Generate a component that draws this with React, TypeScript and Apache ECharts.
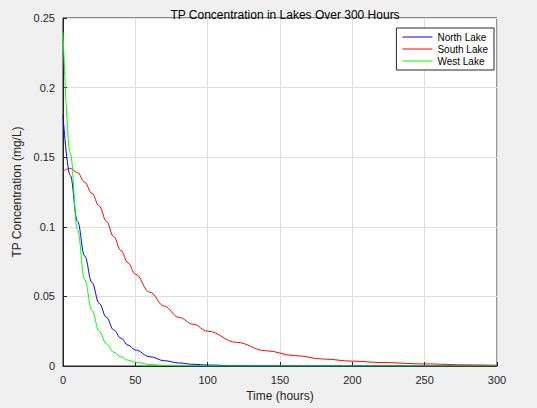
import React, { useEffect, useRef } from 'react';
import * as echarts from 'echarts';

const times = [0, 5, 10, 15, 20, 25, 30, 35, 40, 45, 50, 60, 70, 80, 90, 100, 120, 140, 160, 180, 200, 220, 250, 280, 300];
const north = [0.18, 0.137, 0.104, 0.079, 0.06, 0.045, 0.035, 0.026, 0.02, 0.015, 0.0115, 0.0067, 0.0038, 0.0022, 0.0012, 0.0007, 0.0002, 0.0001, 0.00004, 0.00002, 0, 0, 0, 0, 0];
const south = [0.14, 0.142, 0.139, 0.132, 0.124, 0.115, 0.104, 0.093, 0.083, 0.074, 0.066, 0.053, 0.043, 0.035, 0.03, 0.025, 0.017, 0.011, 0.0075, 0.005, 0.0035, 0.0025, 0.0015, 0.0008, 0.0005];
const west = [0.24, 0.153, 0.098, 0.062, 0.04, 0.025, 0.016, 0.01, 0.0066, 0.0042, 0.0027, 0.0011, 0.0004, 0.0002, 0.0001, 0.00003, 0, 0, 0, 0, 0, 0, 0, 0, 0];

const names = ['North Lake', 'South Lake', 'West Lake'];
const colors = ['#0000ff', '#ff0000', '#00ff00'];

export default function App() {
  const ref = useRef<HTMLDivElement>(null);
  useEffect(() => {
    if (!ref.current) return;
    const chart = echarts.init(ref.current, null, { renderer: 'svg' });
    const font = 'Helvetica, Arial, "Liberation Sans", sans-serif';
    const axisCommon = {
      axisLine: { show: true, onZero: false, lineStyle: { color: '#262626' } },
      axisTick: { show: true, inside: true, length: 4, lineStyle: { color: '#262626' } },
      axisLabel: { color: '#262626', fontSize: 11, fontFamily: font },
      splitLine: { show: true, lineStyle: { color: '#dfdfdf' } },
      nameLocation: 'middle' as const,
      nameTextStyle: { color: '#262626', fontSize: 12, fontFamily: font },
    };
    chart.setOption({
      animation: false,
      backgroundColor: '#f0f0f0',
      title: {
        text: 'TP Concentration in Lakes Over 300 Hours',
        left: 280, top: 4, textAlign: 'center',
        textStyle: { fontSize: 12, fontWeight: 'normal', color: '#000', fontFamily: font },
      },
      grid: { left: 63, right: 40, top: 18, bottom: 42, show: true, backgroundColor: '#fff', borderColor: '#262626', borderWidth: 1 },
      legend: {
        right: 43, top: 28, orient: 'vertical', itemGap: 2, itemWidth: 30, itemHeight: 1,
        backgroundColor: '#fff', borderColor: '#262626', borderWidth: 1, padding: [4, 6, 4, 6],
        icon: 'rect',
        textStyle: { fontSize: 10, color: '#000', fontFamily: font },
        data: names,
      },
      xAxis: {
        type: 'value', min: 0, max: 300, interval: 50, name: 'Time (hours)', nameGap: 22,
        ...axisCommon,
      },
      yAxis: {
        type: 'value', min: 0, max: 0.25, interval: 0.05, name: 'TP Concentration (mg/L)', nameGap: 38,
        ...axisCommon,
        axisLabel: { ...axisCommon.axisLabel, formatter: (v: number) => String(+v.toFixed(2)) },
      },
      series: [north, south, west].map((d, i) => ({
        type: 'line', name: names[i], smooth: 0.4, smoothMonotone: 'x', symbol: 'none',
        data: times.map((t, j) => [t, d[j]]),
        lineStyle: { color: colors[i], width: 1 },
        itemStyle: { color: colors[i] },
      })),
    });
    return () => chart.dispose();
  }, []);
  return <div ref={ref} style={{ width: 537, height: 408, position: 'absolute', left: 0, top: 0 }} />;
}
